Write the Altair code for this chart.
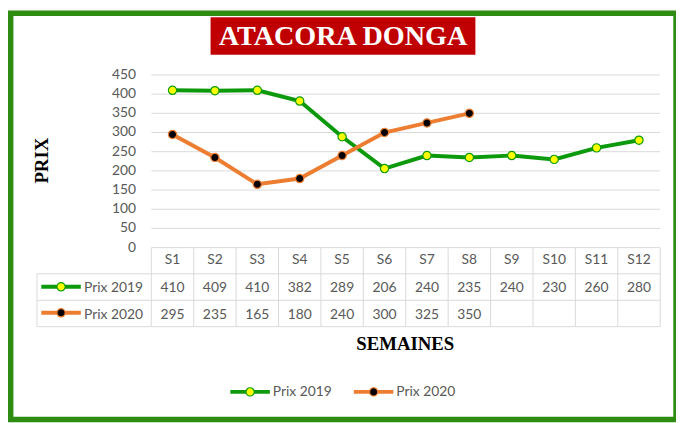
import altair as alt
import pandas as pd

# ---- data ----
weeks = ["S1", "S2", "S3", "S4", "S5", "S6", "S7", "S8", "S9", "S10", "S11", "S12"]
prix_2019 = [410, 409, 410, 382, 289, 206, 240, 235, 240, 230, 260, 280]
prix_2020 = [295, 235, 165, 180, 240, 300, 325, 350]
y_ticks = [0, 50, 100, 150, 200, 250, 300, 350, 400, 450]
series_names = ["Prix 2019", "Prix 2020"]
title_text = "ATACORA DONGA"
y_title = "PRIX"
x_title = "SEMAINES"

# ---- styles ----
GREEN = "#0c9a0c"
ORANGE = "#ED7D31"
FRAME = "#2f8c12"
GRID = "#d9d9d9"
TXT = "#595959"
SANS = "Lato"
SERIF = "Liberation Serif"

W, H = 676, 415
xs = alt.Scale(domain=[0.5, 12.5], range=[145, 660], nice=False, zero=False)
ys = alt.Scale(domain=[0, 450], range=[240, 65.3], nice=False, zero=False)

df19 = pd.DataFrame({"idx": list(range(1, len(prix_2019) + 1)), "val": prix_2019,
                     "lab": [str(v) for v in prix_2019]})
df20 = pd.DataFrame({"idx": list(range(1, len(prix_2020) + 1)), "val": prix_2020,
                     "lab": [str(v) for v in prix_2020]})
dweeks = pd.DataFrame({"idx": list(range(1, len(weeks) + 1)), "lab": weeks})
dticks = pd.DataFrame({"t": y_ticks, "lab": [str(t) for t in y_ticks]})
dedges = pd.DataFrame({"e": [k + 0.5 for k in range(len(weeks) + 1)]})
one = pd.DataFrame({"a": [0]})

X = lambda f: alt.X(f, type="quantitative", scale=xs, axis=None)
Y = lambda f: alt.Y(f, type="quantitative", scale=ys, axis=None)

layers = []

# frame
layers.append(alt.Chart(one).mark_rect(fillOpacity=0, stroke=FRAME, strokeWidth=5.5).encode(
    x=alt.value(2.75), x2=alt.value(676), y=alt.value(2.75), y2=alt.value(414)))

# gridlines
layers.append(alt.Chart(dticks).mark_rule(color=GRID, strokeWidth=1).encode(
    y=Y("t"), x=alt.value(145), x2=alt.value(660)))

# y tick labels
layers.append(alt.Chart(dticks).mark_text(align="right", baseline="middle", font=SANS,
                                           fontSize=14, color=TXT).encode(
    y=Y("t"), x=alt.value(129.5), text="lab:N"))

# table vertical lines
layers.append(alt.Chart(dedges).mark_rule(color=GRID, strokeWidth=1).encode(
    x=X("e"), y=alt.value(240), y2=alt.value(320)))
# table horizontal lines + left border
rows_y = [266.5, 293.3, 320]
for ry in rows_y:
    layers.append(alt.Chart(one).mark_rule(color=GRID, strokeWidth=1).encode(
        y=alt.value(ry), x=alt.value(29.3), x2=alt.value(660)))
layers.append(alt.Chart(one).mark_rule(color=GRID, strokeWidth=1).encode(
    x=alt.value(29.3), y=alt.value(266.5), y2=alt.value(320)))

# table header & values
layers.append(alt.Chart(dweeks).mark_text(align="center", baseline="alphabetic", font=SANS,
                                          fontSize=14, color=TXT).encode(
    x=X("idx"), y=alt.value(257), text="lab:N"))
layers.append(alt.Chart(df19).mark_text(align="center", baseline="alphabetic", font=SANS,
                                        fontSize=14, color=TXT).encode(
    x=X("idx"), y=alt.value(285.3), text="lab:N"))
layers.append(alt.Chart(df20).mark_text(align="center", baseline="alphabetic", font=SANS,
                                        fontSize=14, color=TXT).encode(
    x=X("idx"), y=alt.value(312.7), text="lab:N"))


def icon(x1, x2, xm, y, line_col, fill_col, label, tx, baseline, ty):
    out = []
    out.append(alt.Chart(one).mark_rule(color=line_col, strokeWidth=4).encode(
        x=alt.value(x1), x2=alt.value(x2), y=alt.value(y)))
    out.append(alt.Chart(one).mark_point(shape="circle", filled=True, size=70, fill=fill_col,
                                         stroke=line_col, strokeWidth=1.2, opacity=1).encode(
        x=alt.value(xm), y=alt.value(y)))
    out.append(alt.Chart(pd.DataFrame({"lab": [label]})).mark_text(
        align="left", baseline=baseline, font=SANS, fontSize=14, color=TXT).encode(
        x=alt.value(tx), y=alt.value(ty), text="lab:N"))
    return out

# row label icons
layers += icon(33.7, 73.7, 53.7, 279.7, GREEN, "#ffff00", series_names[0], 77, "alphabetic", 285.3)
layers += icon(33.7, 73.7, 53.7, 306.0, ORANGE, "#000000", series_names[1], 77, "alphabetic", 312.7)

# bottom legend
layers += icon(225, 265, 245, 386, GREEN, "#ffff00", series_names[0], 268, "middle", 386)
layers += icon(350, 390, 370, 386, ORANGE, "#000000", series_names[1], 393, "middle", 386)

# series lines + markers
for d, col, fc in [(df19, GREEN, "#ffff00"), (df20, ORANGE, "#000000")]:
    layers.append(alt.Chart(d).mark_line(color=col, strokeWidth=4).encode(x=X("idx"), y=Y("val")))
    layers.append(alt.Chart(d).mark_point(shape="circle", filled=True, size=70, fill=fc,
                                          stroke=col, strokeWidth=1.2, opacity=1).encode(
        x=X("idx"), y=Y("val")))

# title box
layers.append(alt.Chart(one).mark_rect(color="#c00000").encode(
    x=alt.value(205), x2=alt.value(473), y=alt.value(7), y2=alt.value(44.7)))
layers.append(alt.Chart(pd.DataFrame({"lab": [title_text]})).mark_text(
    align="center", baseline="alphabetic", font=SERIF, fontSize=28.5, fontWeight="bold",
    color="white").encode(x=alt.value(339), y=alt.value(34.5), text="lab:N"))

# axis titles
layers.append(alt.Chart(pd.DataFrame({"lab": [y_title]})).mark_text(
    align="center", baseline="middle", font=SERIF, fontSize=19, fontWeight="bold",
    color="#000000", angle=270).encode(x=alt.value(34.5), y=alt.value(152), text="lab:N"))
layers.append(alt.Chart(pd.DataFrame({"lab": [x_title]})).mark_text(
    align="center", baseline="alphabetic", font=SERIF, fontSize=19, fontWeight="bold",
    color="#000000").encode(x=alt.value(402), y=alt.value(344), text="lab:N"))

chart = alt.layer(*layers).properties(
    width=W, height=H, autosize=alt.AutoSizeParams(type="none"), padding=0,
    background="white"
).configure_view(stroke=None)

chart.save("out.html", embed_options={"renderer": "svg", "actions": False})
